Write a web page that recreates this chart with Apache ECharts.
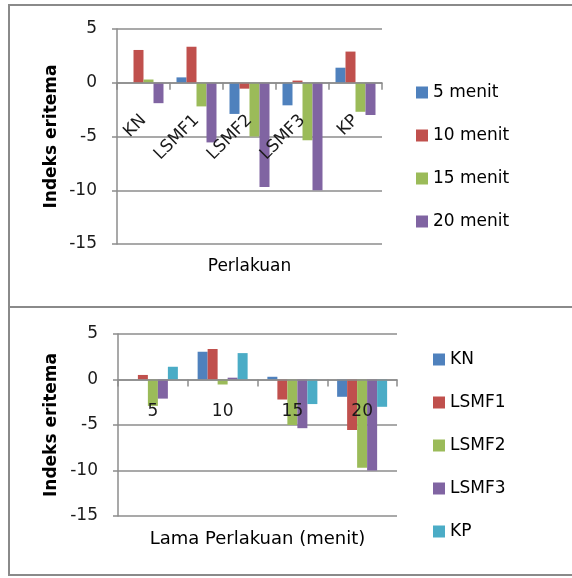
<!DOCTYPE html>
<html>
<head>
<meta charset="utf-8">
<script src="https://cdn.jsdelivr.net/npm/echarts@6/dist/echarts.min.js"></script>
<style>
  html, body { margin: 0; padding: 0; background: #fff; }
  #chart { width: 572px; height: 578px; }
</style>
</head>
<body>
<div id="chart"></div>
<script>
// perlakuan (treatments) and exposure times
const treatments = ['KN', 'LSMF1', 'LSMF2', 'LSMF3', 'KP']
const durations = ['5', '10', '15', '20']
const durationNames = ['5 menit', '10 menit', '15 menit', '20 menit']

// indeks eritema per treatment, one array per duration
const menit5 = [0, 0.5, -2.9, -2.1, 1.4]
const menit10 = [3.05, 3.35, -0.55, 0.2, 2.9]
const menit15 = [0.3, -2.2, -5.0, -5.35, -2.7]
const menit20 = [-1.9, -5.55, -9.7, -10.0, -3.0]

const yTicks = { min: -15, max: 5, interval: 5 }

const colors = ['#4f81bd', '#c0504d', '#9bbb59', '#8064a2', '#4bacc6']
const byDuration = [menit5, menit10, menit15, menit20]

const FONT = 'DejaVu Sans'
const gridColor = '#8c8c8c'

const grids = [
  { left: 117, right: 190, top: 29, bottom: 334, outerBoundsMode: 'none' },
  { left: 118, right: 175, top: 334, bottom: 62, outerBoundsMode: 'none' }
]
const H = 578

// category axis is drawn on the zero line: shift it up from the grid bottom
function zeroOffset(g) {
  const h = H - g.top - g.bottom
  return -h * (0 - yTicks.min) / (yTicks.max - yTicks.min)
}

function valueAxis(gridIndex, gap) {
  return {
    type: 'value',
    gridIndex,
    min: yTicks.min,
    max: yTicks.max,
    interval: yTicks.interval,
    name: 'Indeks eritema',
    nameLocation: 'middle',
    nameGap: gap,
    nameTextStyle: { fontFamily: FONT, fontSize: 17, fontWeight: 'bold', color: '#000' },
    axisLine: { show: true, lineStyle: { color: gridColor, width: 1.5 } },
    axisTick: { show: true, length: 5, lineStyle: { color: gridColor, width: 1.5 } },
    axisLabel: { fontFamily: FONT, fontSize: 17, color: '#1a1a1a', margin: 20 },
    splitLine: { lineStyle: { color: gridColor, width: 1.5 } }
  }
}

function categoryAxis(gridIndex, data, name, gap, nameSize, label) {
  return {
    type: 'category',
    gridIndex,
    data,
    z: 10,
    position: 'bottom',
    offset: zeroOffset(grids[gridIndex]),
    name,
    nameLocation: 'middle',
    nameGap: gap,
    nameTextStyle: { fontFamily: FONT, fontSize: nameSize, color: '#000' },
    axisLine: { onZero: false, lineStyle: { color: gridColor, width: 1.5 } },
    axisTick: { show: true, length: 7, lineStyle: { color: gridColor, width: 1.5 } },
    axisLabel: Object.assign({ fontFamily: FONT, fontSize: 17, color: '#1a1a1a', interval: 0 }, label)
  }
}

const series = []
byDuration.forEach((vals, i) => {
  series.push({
    name: durationNames[i],
    type: 'bar',
    xAxisIndex: 0,
    yAxisIndex: 0,
    data: vals,
    barWidth: 10,
    barGap: 0,
    itemStyle: { color: colors[i] }
  })
})
treatments.forEach((t, j) => {
  series.push({
    name: t,
    type: 'bar',
    xAxisIndex: 1,
    yAxisIndex: 1,
    data: byDuration.map(vals => vals[j]),
    barWidth: 10,
    barGap: 0,
    itemStyle: { color: colors[j] }
  })
})

const legendBase = {
  orient: 'vertical',
  padding: 0,
  itemWidth: 12,
  itemHeight: 12,
  itemGap: 26,
  icon: 'rect',
  textStyle: { fontFamily: FONT, fontSize: 17, color: '#000' }
}

const chart = echarts.init(document.getElementById('chart'))
chart.setOption({
  backgroundColor: '#fff',
  animation: false,
  graphic: [
    { type: 'rect', shape: { x: 9, y: 5, width: 600, height: 302 }, style: { fill: 'none', stroke: '#8a8a8a', lineWidth: 2 } },
    { type: 'rect', shape: { x: 9, y: 307, width: 600, height: 268 }, style: { fill: 'none', stroke: '#8a8a8a', lineWidth: 2 } }
  ],
  legend: [
    Object.assign({ left: 416, top: 84, data: durationNames }, legendBase),
    Object.assign({ left: 433, top: 351, data: treatments }, legendBase)
  ],
  grid: grids,
  xAxis: [
    categoryAxis(0, treatments, 'Perlakuan', 175, 17, { rotate: 45, margin: 35 }),
    categoryAxis(1, durations, 'Lama Perlakuan (menit)', 151, 18, { margin: 24 })
  ],
  yAxis: [valueAxis(0, 57), valueAxis(1, 58)],
  series
})
</script>
</body>
</html>
